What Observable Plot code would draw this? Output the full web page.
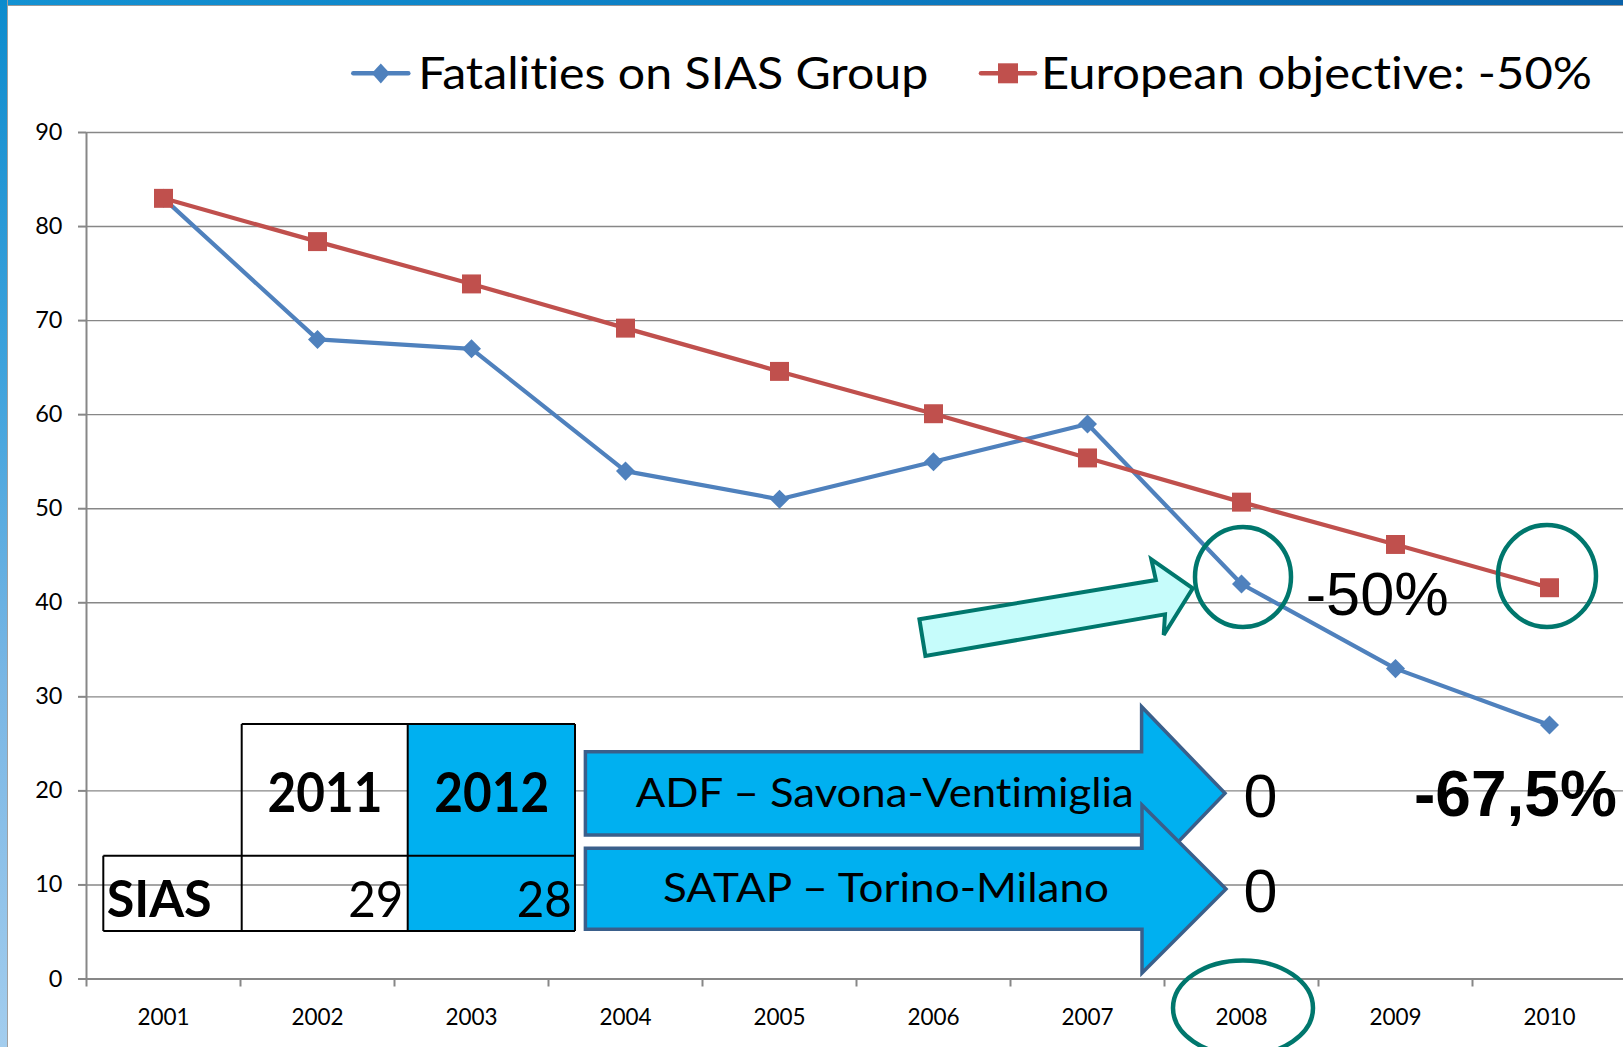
<!DOCTYPE html>
<html><head><meta charset="utf-8">
<script src="https://cdn.jsdelivr.net/npm/d3@7"></script>
<script src="https://cdn.jsdelivr.net/npm/@observablehq/plot@0.6"></script>
<style>
html,body{margin:0;padding:0;background:#fff;overflow:hidden;}
#page{position:relative;width:1623px;height:1047px;overflow:hidden;background:#fff;}
#legend{position:relative;width:1623px;height:110px;}
#legend svg{display:block;}
#chart{position:relative;width:1626px;}
#chart svg{display:block;}
#overlay{position:absolute;left:0;top:0;pointer-events:none;}
svg text{font-variant-ligatures:none;font-feature-settings:"liga" 0,"clig" 0;}
.band-top{position:absolute;left:0;top:0;width:1623px;height:5px;background:linear-gradient(90deg,#1392d3,#0b7cc2 50%,#0a62a9);border-bottom:1px solid #9a9a9a;}
.band-left{position:absolute;left:0;top:0;width:7px;height:1047px;background:linear-gradient(180deg,#0c8bcd,#3da2dc 35%,#79b6e4 65%,#a3cdee);border-right:1px solid #a0a0a0;}
</style></head>
<body><div id="page"><div id="legend"></div><div id="chart"></div><svg id="overlay" width="1623" height="1047"></svg><div class="band-top"></div><div class="band-left"></div></div>
<script>
// ---- data ----
const years = ["2001","2002","2003","2004","2005","2006","2007","2008","2009","2010"];
const fatalities = [83, 68, 67, 54, 51, 55, 59, 42, 33, 27];
const objective = [83, 78.4, 73.9, 69.2, 64.6, 60.1, 55.4, 50.7, 46.2, 41.6];
const yTicks = [0, 10, 20, 30, 40, 50, 60, 70, 80, 90];
const seriesNames = ["Fatalities on SIAS Group", "European objective: -50%"];
const seriesColors = ["#4F81BD", "#C0504D"];
const tableCols = ["2011", "2012"];
const tableRowLabel = "SIAS";
const tableVals = [29, 28];
const roads = ["ADF – Savona-Ventimiglia", "SATAP – Torino-Milano"];
const roadVals = [0, 0];
const labelTarget = "-50%";
const labelResult = "-67,5%";

const blueData = years.map((y, i) => ({year: y, value: fatalities[i]}));
const redData = years.map((y, i) => ({year: y, value: objective[i]}));

// ---- chart ----
const W = 1626, H = 937, ML = 86, MR = 0, MT = 22, MB = 68.5;
const bw = (W - ML - MR) / years.length;
const grey = "#878787";
const chart = Plot.plot({
  width: W, height: H, marginTop: MT, marginBottom: MB, marginLeft: ML, marginRight: MR,
  style: {fontFamily: "Lato, 'Open Sans', sans-serif", color: "black", background: "transparent", overflow: "visible"},
  x: {type: "band", domain: years, padding: 0, label: null},
  y: {domain: [0, 90], label: null},
  marks: [
    Plot.gridY(yTicks, {stroke: grey, strokeOpacity: 1, strokeWidth: 1.4}),
    Plot.axisY(yTicks, {tickSize: 8, tickPadding: 16, fontSize: 23.5, stroke: grey, strokeWidth: 2, label: null}),
    Plot.axisX({tickSize: 0, tickPadding: 30, fontSize: 22.5, label: null}),
    Plot.axisX({tickSize: 8, fill: "none", dx: -bw / 2, stroke: grey, strokeWidth: 2, label: null}),
    Plot.ruleY([0], {stroke: grey, strokeWidth: 2}),
    Plot.ruleX(years.slice(0, 1), {dx: -bw / 2, stroke: grey, strokeWidth: 2}),
    Plot.line(blueData, {x: "year", y: "value", stroke: seriesColors[0], strokeWidth: 4.2}),
    Plot.dot(blueData, {x: "year", y: "value", symbol: "square", r: 7.6, rotate: 45, fill: seriesColors[0], stroke: "none"}),
    Plot.line(redData, {x: "year", y: "value", stroke: seriesColors[1], strokeWidth: 4.2}),
    Plot.dot(redData, {x: "year", y: "value", symbol: "square", r: 10.7, fill: seriesColors[1], stroke: "none"})
  ]
});
document.getElementById("chart").appendChild(chart);

// ---- legend ----
const calibri = "Lato, 'Open Sans', sans-serif";
const arial = "'Liberation Sans', Arial, sans-serif";
const leg = d3.select("#legend").append("svg").attr("width", 1623).attr("height", 110);
const legItems = [
  {x0: 353.3, x1: 408.3, tx: 418.3, tw: 510, sym: "diamond"},
  {x0: 981, x1: 1035, tx: 1041, tw: 551, sym: "square"}
];
legItems.forEach((it, i) => {
  const g = leg.append("g");
  g.append("line").attr("x1", it.x0).attr("x2", it.x1).attr("y1", 73.3).attr("y2", 73.3)
    .attr("stroke", seriesColors[i]).attr("stroke-width", 4.5).attr("stroke-linecap", "round");
  const cx = (it.x0 + it.x1) / 2;
  if (it.sym === "diamond") {
    g.append("path").attr("d", `M${cx},63.5L${cx + 9},73.3L${cx},83.5L${cx - 9},73.3Z`).attr("fill", seriesColors[i]);
  } else {
    g.append("rect").attr("x", cx - 10).attr("y", 63.3).attr("width", 20).attr("height", 20).attr("fill", seriesColors[i]);
  }
  g.append("text").attr("x", it.tx).attr("y", 89.3).attr("font-family", calibri).attr("font-size", 45)
    .attr("textLength", it.tw).attr("lengthAdjust", "spacingAndGlyphs").attr("fill", "black").text(seriesNames[i]);
});

// ---- annotations overlay ----
const ov = d3.select("#overlay");
const teal = "#00776D";

// table
ov.append("rect").attr("x", 407.7).attr("y", 724).attr("width", 575 - 407.7).attr("height", 931 - 724).attr("fill", "#00B0F0");
const tline = (x1, y1, x2, y2) => ov.append("line").attr("x1", x1).attr("y1", y1).attr("x2", x2).attr("y2", y2).attr("stroke", "black").attr("stroke-width", 2);
tline(241.7, 724, 575, 724);
tline(103.3, 855.7, 575, 855.7);
tline(103.3, 931, 575, 931);
tline(103.3, 855.7, 103.3, 931);
tline(241.7, 724, 241.7, 931);
tline(407.7, 724, 407.7, 931);
tline(575, 724, 575, 931);
const colCenters = [325, 491.7];
const colRights = [403.3, 571.7];
tableCols.forEach((c, i) => {
  ov.append("text").attr("x", colCenters[i]).attr("y", 811.7).attr("text-anchor", "middle")
    .attr("font-family", calibri).attr("font-weight", "bold").attr("font-size", 56)
    .attr("textLength", 115).attr("lengthAdjust", "spacingAndGlyphs").text(c);
  ov.append("text").attr("x", colRights[i]).attr("y", 916.7).attr("text-anchor", "end")
    .attr("font-family", calibri).attr("font-size", 51)
    .attr("textLength", 55).attr("lengthAdjust", "spacingAndGlyphs").text(String(tableVals[i]));
});
ov.append("text").attr("x", 106.7).attr("y", 916.7).attr("font-family", calibri).attr("font-weight", "bold")
  .attr("font-size", 51).attr("textLength", 105).attr("lengthAdjust", "spacingAndGlyphs").text(tableRowLabel);

// road arrows
const arrows = [
  {top: 751.7, bot: 835, htop: 706.7, hbot: 880, mid: 793.3, tip: 1225, base: 1141.6, tc: 884.7, tb: 806.7, tw: 498, zb: 816.7},
  {top: 848.3, bot: 929.3, htop: 805, hbot: 973, mid: 889, tip: 1226, base: 1142, tc: 886, tb: 902.3, tw: 446, zb: 911.7}
];
arrows.forEach((a, i) => {
  const pts = [[585.4, a.top], [a.base, a.top], [a.base, a.htop], [a.tip, a.mid], [a.base, a.hbot], [a.base, a.bot], [585.4, a.bot]];
  ov.append("polygon").attr("points", pts.map(p => p.join(",")).join(" "))
    .attr("fill", "#00B0F0").attr("stroke", "#3A5F8B").attr("stroke-width", 3.5).attr("stroke-linejoin", "miter");
  ov.append("text").attr("x", a.tc).attr("y", a.tb).attr("text-anchor", "middle").attr("font-family", calibri)
    .attr("font-size", 41).attr("textLength", a.tw).attr("lengthAdjust", "spacingAndGlyphs").text(roads[i]);
  ov.append("text").attr("x", 1243.5).attr("y", a.zb).attr("font-family", arial).attr("font-size", 61).text(String(roadVals[i]));
});

// percentage labels
ov.append("text").attr("x", 1305.7).attr("y", 615).attr("font-family", arial).attr("font-size", 62)
  .attr("textLength", 143).attr("lengthAdjust", "spacingAndGlyphs").text(labelTarget);
ov.append("text").attr("x", 1414).attr("y", 816).attr("font-family", arial).attr("font-weight", "bold").attr("font-size", 64)
  .text(labelResult);

// cyan arrow
const cyanPts = [[919.4, 619.3], [1155.9, 580], [1151.3, 559.3], [1192.8, 588.3], [1163.7, 635], [1165, 614.3], [925.4, 656]];
ov.append("polygon").attr("points", cyanPts.map(p => p.join(",")).join(" "))
  .attr("fill", "#C6FCFB").attr("stroke", teal).attr("stroke-width", 4).attr("stroke-linejoin", "miter");

// ellipses
[[1243, 577, 48, 50], [1547, 576, 49, 51], [1243, 1008, 70, 47.5]].forEach(([cx, cy, rx, ry]) => {
  ov.append("ellipse").attr("cx", cx).attr("cy", cy).attr("rx", rx).attr("ry", ry)
    .attr("fill", "none").attr("stroke", teal).attr("stroke-width", 4.5);
});
</script>
</body></html>
